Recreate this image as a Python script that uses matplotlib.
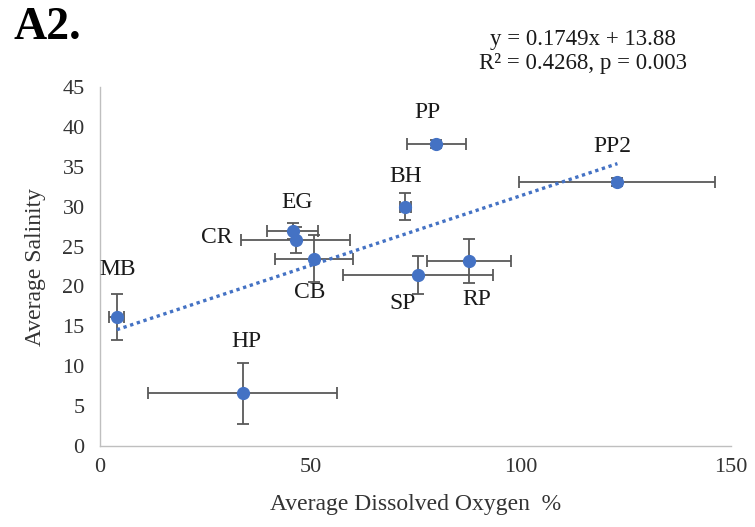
import matplotlib
matplotlib.use("Agg")
import matplotlib.pyplot as plt
import numpy as np

plt.rcParams['font.family'] = ['Liberation Serif', 'DejaVu Serif']

# Site means and standard deviations
sites = ["MB", "HP", "EG", "CR", "CB", "SP", "RP", "BH", "PP", "PP2"]
oxygen = [4.0, 33.9, 45.8, 46.5, 50.9, 75.6, 87.8, 72.6, 79.9, 123.0]
oxygen_err = [1.8, 22.4, 6.0, 13.0, 9.2, 17.9, 10.0, 1.3, 7.0, 23.3]
salinity = [16.2, 6.6, 26.9, 25.8, 23.5, 21.4, 23.2, 30.0, 37.8, 33.1]
salinity_err = [2.9, 3.8, 1.0, 1.6, 2.9, 2.4, 2.8, 1.7, 0.5, 0.5]

# Linear fit reported on the chart
slope, intercept = 0.1749, 13.88
r_squared, p_value = 0.4268, 0.003

# Label offsets (pixels) relative to each point
label_offsets = {
    "MB": (1, 47), "HP": (4, 52), "EG": (4, 29), "CR": (-79, 3),
    "CB": (-4, -34), "SP": (-15, -28), "RP": (7, -39),
    "BH": (0, 30), "PP": (-9, 32), "PP2": (-5, 35),
}

W, H = 755, 527
fig = plt.figure(figsize=(W / 100, H / 100), dpi=100)
ax = fig.add_axes([100 / W, 1 - 446 / H, (731 - 100) / W, (446 - 87) / H])

blue = "#4472C4"
bar_color = "#595959"
text_color = "#1a1a1a"

ax.errorbar(oxygen, salinity, xerr=oxygen_err, yerr=salinity_err,
            fmt="o", color=blue, markersize=8.5, ecolor=bar_color,
            elinewidth=1.3, capsize=4.5, capthick=1.3, zorder=3)

xs = np.array([min(oxygen), max(oxygen)])
ax.plot(xs, slope * xs + intercept, color=blue, lw=2.4,
        linestyle=(0, (1, 1.1)), zorder=4)

for name, x, y in zip(sites, oxygen, salinity):
    dx, dy = label_offsets[name]
    ax.annotate(name, (x, y), xytext=(dx, dy), textcoords="offset pixels",
                ha="center", va="center", fontsize=17, color=text_color)

ax.set_xlim(0, 150)
ax.set_ylim(0, 45)
ax.set_xticks([0, 50, 100, 150])
ax.set_yticks(range(0, 46, 5))
ax.tick_params(length=0, labelsize=16, colors="#333333")
ax.tick_params(axis="y", pad=11)
ax.tick_params(axis="x", pad=9)
for side in ("top", "right"):
    ax.spines[side].set_visible(False)
for side in ("left", "bottom"):
    ax.spines[side].set_color("#bfbfbf")
    ax.spines[side].set_linewidth(1.0)

ax.set_xlabel("Average Dissolved Oxygen  %", fontsize=17, color="#333333", labelpad=12)
ax.set_ylabel("Average Salinity", fontsize=17, color="#333333", labelpad=12)

fig.text(47 / W, 1 - 28 / H, "A2.", fontsize=33, fontweight="bold",
         ha="center", va="center", color="black")
fig.text(583 / W, 1 - 40 / H, f"y = {slope}x + {intercept}",
         fontsize=16.5, ha="center", va="center", color=text_color)
fig.text(583 / W, 1 - 64 / H, f"R² = {r_squared}, p = {p_value}",
         fontsize=16.5, ha="center", va="center", color=text_color)

fig.savefig("out.png", dpi=100)
